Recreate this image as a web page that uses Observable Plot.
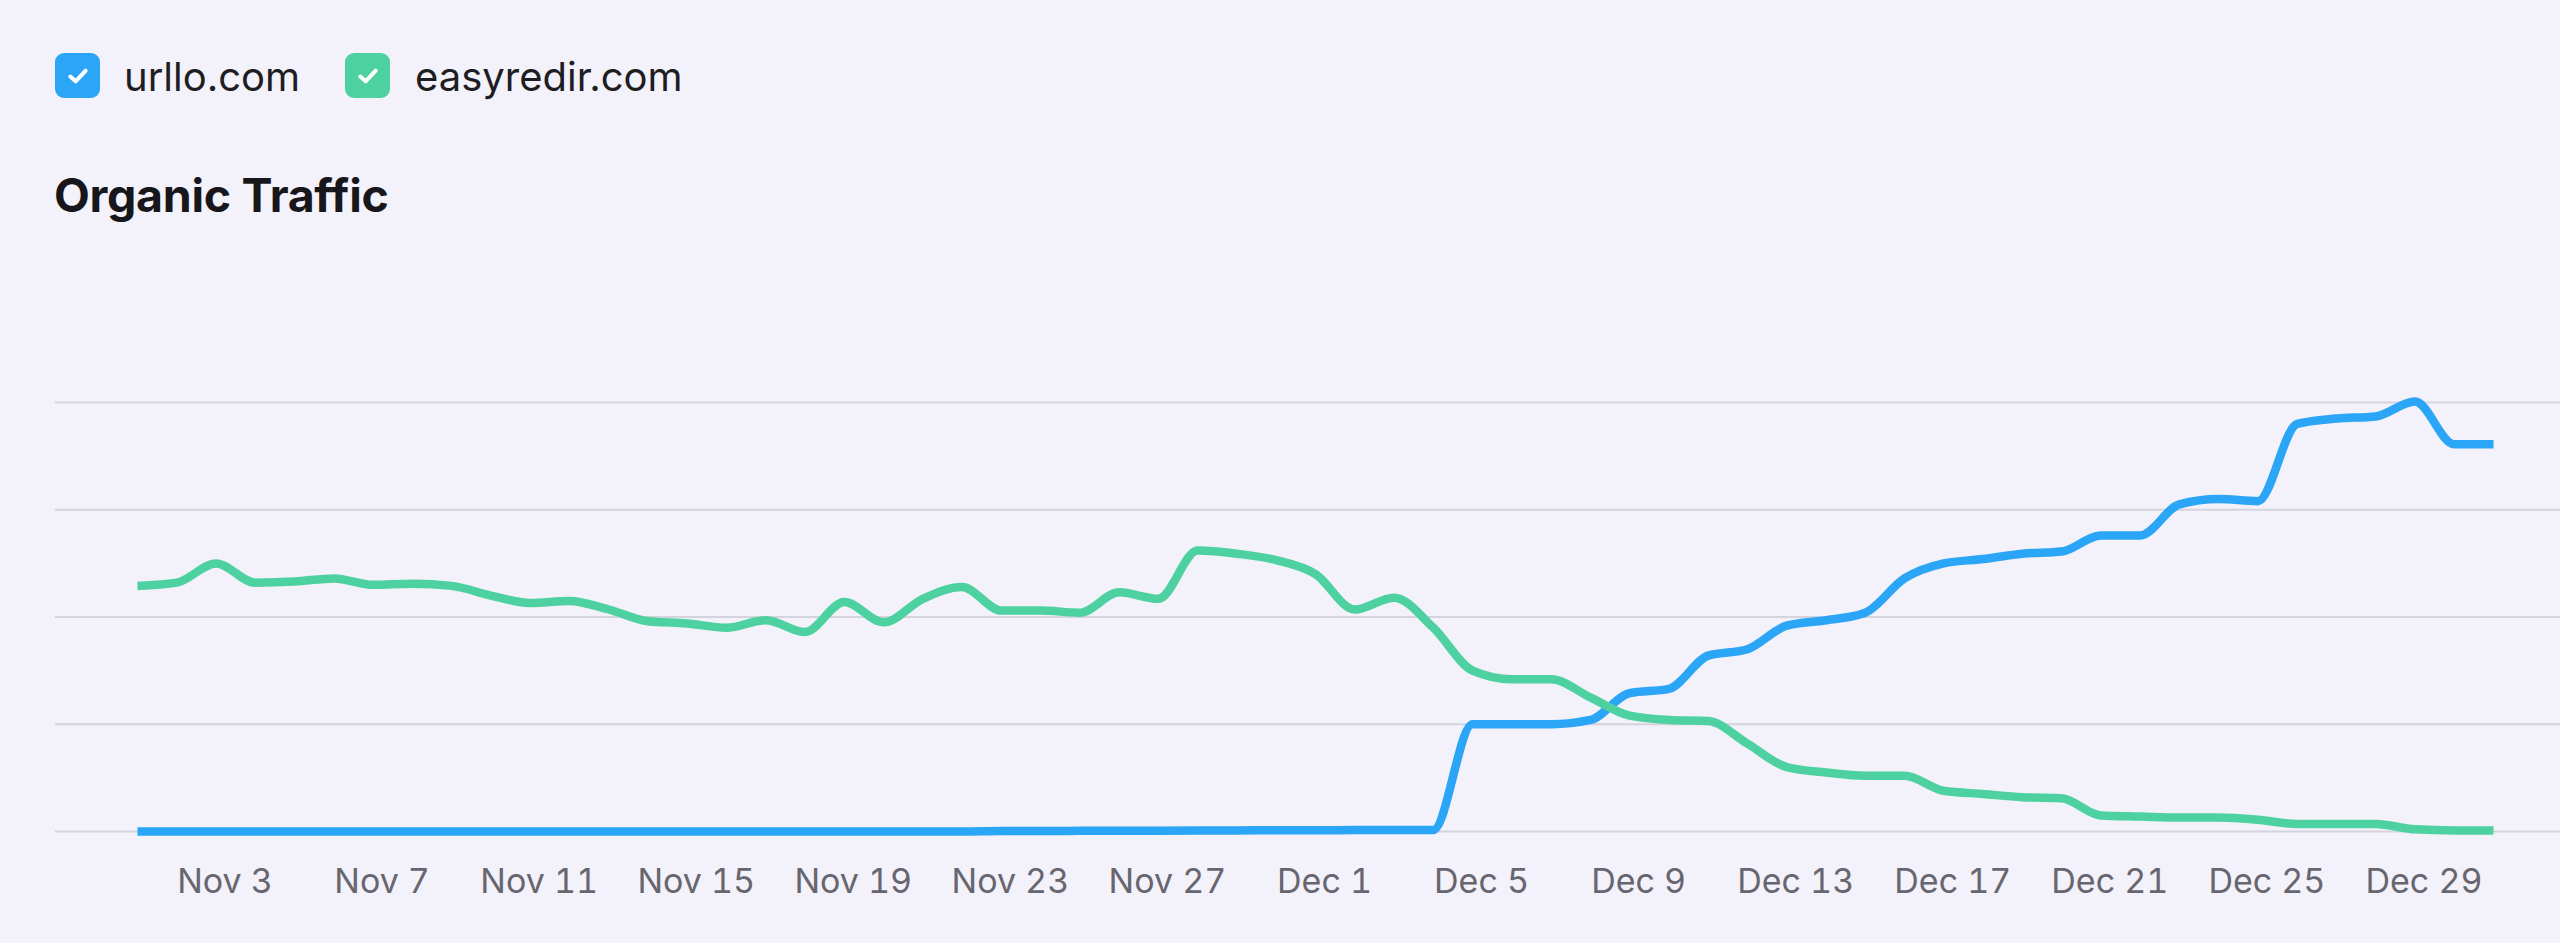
<!DOCTYPE html>
<html>
<head>
<meta charset="utf-8">
<script src="https://cdn.jsdelivr.net/npm/d3@7"></script>
<script src="https://cdn.jsdelivr.net/npm/@observablehq/plot@0.6"></script>
<style>
  html, body { margin: 0; padding: 0; background: #f3f1fa; width: 2560px; height: 943px; overflow: hidden; font-family: Inter, "Noto Sans", sans-serif; }
  .box { position: absolute; width: 45px; height: 45px; border-radius: 9px; display: flex; align-items: center; justify-content: center; }
  .lbl { position: absolute; font-size: 40px; line-height: 40px; color: #1d1d22; white-space: nowrap; }
  #title { position: absolute; left: 54px; top: 172px; font-size: 46.5px; line-height: 46.5px; font-weight: 700; color: #17171b; white-space: nowrap; letter-spacing: -0.3px; }
  #chart { position: absolute; left: 0; top: 230px; }
</style>
</head>
<body>
<div class="box" style="left:55px;top:53px;background:#2ba5f5"><svg width="26" height="26" viewBox="0 0 22 22"><path d="M4.5 11.5 L9 15.5 L17.5 6.5" fill="none" stroke="#fff" stroke-width="3.4" stroke-linecap="round" stroke-linejoin="round"/></svg></div>
<div class="lbl" id="l1" style="left:124px;top:57px"></div>
<div class="box" style="left:345px;top:53px;background:#4ed1a0"><svg width="26" height="26" viewBox="0 0 22 22"><path d="M4.5 11.5 L9 15.5 L17.5 6.5" fill="none" stroke="#fff" stroke-width="3.4" stroke-linecap="round" stroke-linejoin="round"/></svg></div>
<div class="lbl" id="l2" style="left:415px;top:57px"></div>
<div id="title"></div>
<div id="chart"></div>
<script>
// ---- data ----
const seriesNames = ["urllo.com", "easyredir.com"];
const seriesColors = ["#2ba5f5", "#4ed1a0"];
const chartTitle = "Organic Traffic";
const startDate = [2023, 10, 1]; // Nov 1
const urllo = [
  0, 0, 0, 0, 0, 0, 0, 0, 0, 0,
  0, 0, 0, 0, 0, 0, 0, 0, 0, 0,
  0, 0, 0.005, 0.005, 0.006, 0.007, 0.008, 0.009, 0.010, 0.011,
  0.012, 0.013, 0.014, 0.015, 1.00, 1.00, 1.00, 1.04, 1.29, 1.33,
  1.64, 1.70, 1.92, 1.97, 2.04, 2.36, 2.50, 2.54, 2.59, 2.61,
  2.76, 2.76, 3.05, 3.10, 3.08, 3.80, 3.85, 3.87, 4.01, 3.61,
  3.61
];
const easyredir = [
  2.29, 2.32, 2.50, 2.32, 2.33, 2.36, 2.30, 2.31, 2.29, 2.20,
  2.13, 2.15, 2.07, 1.96, 1.94, 1.90, 1.97, 1.86, 2.14, 1.95,
  2.17, 2.28, 2.06, 2.06, 2.04, 2.23, 2.17, 2.62, 2.59, 2.53,
  2.40, 2.07, 2.18, 1.90, 1.50, 1.42, 1.42, 1.25, 1.08, 1.04,
  1.03, 0.82, 0.60, 0.55, 0.52, 0.52, 0.38, 0.35, 0.32, 0.31,
  0.15, 0.14, 0.13, 0.13, 0.11, 0.07, 0.07, 0.07, 0.02, 0.01,
  0.01
];
const yGrid = [0, 1, 2, 3, 4];
const xTickDays = [3, 7, 11, 15, 19, 23, 27, 31, 35, 39, 43, 47, 51, 55, 59]; // day-of-period numbers -> Nov 3 ... Dec 29

// ---- build ----
const day = (i) => new Date(Date.UTC(startDate[0], startDate[1], startDate[2] + i));
const rows = [];
[urllo, easyredir].forEach((arr, s) => arr.forEach((v, i) => rows.push({date: day(i), value: v, series: seriesNames[s]})));
const xTicks = xTickDays.map(d => day(d - 1));

document.getElementById("l1").textContent = seriesNames[0];
document.getElementById("l2").textContent = seriesNames[1];
document.getElementById("title").textContent = chartTitle;

const chart = Plot.plot({
  width: 2560,
  height: 713,
  marginTop: 172,
  marginBottom: 112,
  marginLeft: 137,
  marginRight: 67,
  style: {background: "transparent", fontFamily: "Inter, 'Noto Sans', sans-serif", overflow: "visible"},
  x: {type: "utc", domain: [day(0), day(urllo.length - 1)], axis: null},
  y: {domain: [0, 4], axis: null},
  color: {domain: seriesNames, range: seriesColors},
  marks: [
    Plot.ruleY(yGrid, {stroke: "#d5d3dd", strokeWidth: 2, insetLeft: -82, insetRight: -67}),
    Plot.lineY(rows.filter(r => r.series === seriesNames[0]), {x: "date", y: "value", stroke: "series", strokeWidth: 8.5, curve: "monotone-x", strokeLinejoin: "round", strokeLinecap: "butt"}),
    Plot.lineY(rows.filter(r => r.series === seriesNames[1]), {x: "date", y: "value", stroke: "series", strokeWidth: 8.5, curve: "monotone-x", strokeLinejoin: "round", strokeLinecap: "butt"}),
    Plot.axisX(xTicks, {tickSize: 0, tickPadding: 37, tickFormat: d3.utcFormat("%b %-d"), fontSize: 34, fill: "#67666f", dx: 9})
  ]
});
document.getElementById("chart").appendChild(chart);
</script>
</body>
</html>
